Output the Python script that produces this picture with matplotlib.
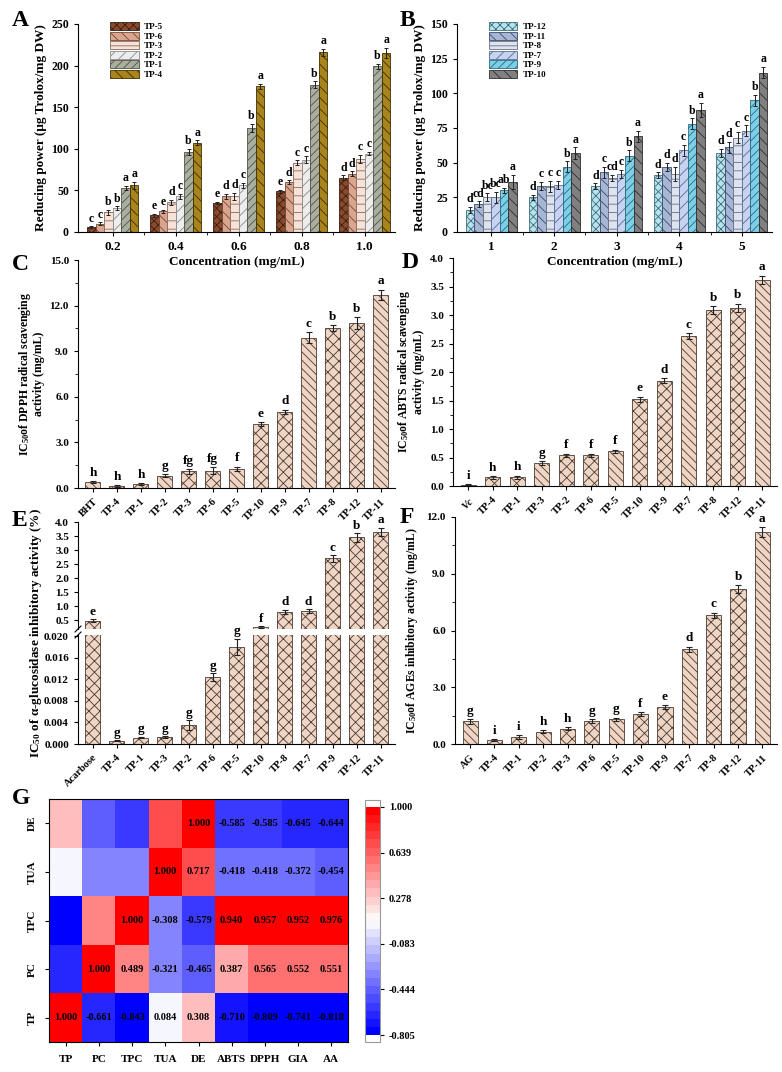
import copy

import matplotlib

matplotlib.use("Agg")
import matplotlib.pyplot as plt
import numpy as np
from matplotlib.cm import ScalarMappable
from matplotlib.colors import Normalize
from matplotlib.ticker import MultipleLocator, FormatStrFormatter

W, H = 782, 1072

# ---- data: panel A (reducing power, TP-1..6) ----
conc_a = ["0.2", "0.4", "0.6", "0.8", "1.0"]
series_a = ["TP-5", "TP-6", "TP-3", "TP-2", "TP-1", "TP-4"]
vals_a = [
    [6, 20, 35, 49, 65],
    [10, 25, 43, 60, 70],
    [24, 36, 43, 83, 88],
    [29, 43, 56, 87, 94],
    [53, 96, 125, 177, 199],
    [56, 107, 175, 216, 215],
]
err_a = [
    [1, 1.5, 1.5, 2, 3],
    [1.5, 2, 3, 2, 3],
    [3, 3, 4, 3, 5],
    [2, 3, 3, 4, 2],
    [2.5, 4, 5, 4, 3],
    [4, 3, 3, 4, 6],
]
let_a = [
    ["c", "e", "e", "e", "d"],
    ["c", "e", "d", "d", "d"],
    ["b", "d", "d", "c", "c"],
    ["b", "c", "c", "c", "c"],
    ["a", "b", "b", "b", "b"],
    ["a", "a", "a", "a", "a"],
]

# ---- data: panel B (reducing power, TP-7..12) ----
conc_b = ["1", "2", "3", "4", "5"]
series_b = ["TP-12", "TP-11", "TP-8", "TP-7", "TP-9", "TP-10"]
vals_b = [
    [16, 25, 33, 41, 57],
    [20, 33, 43, 47, 61],
    [25, 33, 39, 42, 68],
    [25, 34, 42, 59, 73],
    [30, 47, 55, 78, 95],
    [36, 57, 69, 88, 115],
]
err_b = [
    [2, 2, 2, 2, 3],
    [2, 3, 4, 3, 4],
    [3, 4, 2, 5, 4],
    [4, 3, 3, 4, 4],
    [2, 4, 4, 4, 4],
    [5, 4, 4, 5, 4],
]
let_b = [
    ["d", "d", "d", "d", "d"],
    ["cd", "c", "c", "d", "d"],
    ["bc", "c", "cd", "d", "c"],
    ["bc", "c", "c", "c", "c"],
    ["ab", "b", "b", "b", "b"],
    ["a", "a", "a", "a", "a"],
]

# ---- data: panel C (DPPH IC50) ----
cat_c = ["BHT", "TP-4", "TP-1", "TP-2", "TP-3", "TP-6", "TP-5",
         "TP-10", "TP-9", "TP-7", "TP-8", "TP-12", "TP-11"]
val_c = [0.4, 0.12, 0.25, 0.8, 1.1, 1.15, 1.25, 4.2, 5.0, 9.9, 10.5, 10.85, 12.7]
err_c = [0.05, 0.05, 0.07, 0.1, 0.15, 0.2, 0.15, 0.15, 0.15, 0.35, 0.2, 0.4, 0.35]
let_c = ["h", "h", "h", "g", "fg", "fg", "f", "e", "d", "c", "b", "b", "a"]

# ---- data: panel D (ABTS IC50) ----
cat_d = ["Vc", "TP-4", "TP-1", "TP-3", "TP-2", "TP-6", "TP-5",
         "TP-10", "TP-9", "TP-7", "TP-8", "TP-12", "TP-11"]
val_d = [0.02, 0.15, 0.15, 0.4, 0.54, 0.54, 0.61, 1.52, 1.85, 2.63, 3.08, 3.13, 3.62]
err_d = [0.01, 0.02, 0.03, 0.03, 0.03, 0.03, 0.03, 0.05, 0.04, 0.05, 0.07, 0.07, 0.07]
let_d = ["i", "h", "h", "g", "f", "f", "f", "e", "d", "c", "b", "b", "a"]

# ---- data: panel E (alpha-glucosidase IC50) ----
cat_e = ["Acarbose", "TP-4", "TP-1", "TP-3", "TP-2", "TP-6", "TP-5",
         "TP-10", "TP-8", "TP-7", "TP-9", "TP-12", "TP-11"]
val_e = [0.48, 0.0006, 0.0012, 0.0013, 0.0035, 0.0124, 0.018,
         0.25, 0.8, 0.82, 2.7, 3.45, 3.65]
err_e = [0.06, 0.00005, 0.0001, 0.0001, 0.0009, 0.0007, 0.0015,
         0.04, 0.07, 0.07, 0.12, 0.15, 0.15]
let_e = ["e", "g", "g", "g", "g", "g", "g", "f", "d", "d", "c", "b", "a"]

# ---- data: panel F (AGEs IC50) ----
cat_f = ["AG", "TP-4", "TP-1", "TP-2", "TP-3", "TP-6", "TP-5",
         "TP-10", "TP-9", "TP-7", "TP-8", "TP-12", "TP-11"]
val_f = [1.2, 0.2, 0.35, 0.65, 0.8, 1.2, 1.3, 1.58, 1.95, 5.0, 6.8, 8.2, 11.2]
err_f = [0.12, 0.05, 0.1, 0.08, 0.08, 0.1, 0.1, 0.12, 0.12, 0.15, 0.15, 0.2, 0.25]
let_f = ["g", "i", "i", "h", "h", "g", "g", "f", "e", "d", "c", "b", "a"]

# ---- data: panel G (correlation matrix, rows bottom->top) ----
heat_cols = ["TP", "PC", "TPC", "TUA", "DE", "ABTS", "DPPH", "GIA", "AA"]
heat_rows = ["TP", "PC", "TPC", "TUA", "DE"]
corr = [
    [1.000, -0.661, -0.843, 0.084, 0.308, -0.710, -0.809, -0.741, -0.818],
    [-0.661, 1.000, 0.489, -0.321, -0.465, 0.387, 0.565, 0.552, 0.551],
    [-0.843, 0.489, 1.000, -0.308, -0.579, 0.940, 0.957, 0.952, 0.976],
    [0.084, -0.321, -0.308, 1.000, 0.717, -0.418, -0.418, -0.372, -0.454],
    [0.308, -0.465, -0.579, 0.717, 1.000, -0.585, -0.585, -0.645, -0.644],
]
cbar_ticks = [-0.805, -0.444, -0.083, 0.278, 0.639, 1.000]

# ---- styles ----
FILL_A = ["#8a4a2c", "#dba58d", "#f6e2d8", "#ededed", "#a9ae9f", "#a8841a"]
EDGE_A = ["#3a1e10", "#6e4a3a", "#8a6a5a", "#8a8a8a", "#4e5248", "#3e2e05"]
HATCH_A = ["xxxx", "\\\\\\", "--", "///", "////", "\\\\\\"]
FILL_B = ["#b8e3ee", "#a7b6d4", "#dde3ef", "#c6d3f1", "#7ccfe6", "#808080"]
EDGE_B = ["#3c6e7a", "#3c4c6a", "#6a7080", "#5a6a90", "#2a6a80", "#2e2e2e"]
HATCH_B = ["xxxx", "\\\\\\", "--", "///", "////", "\\\\\\"]
FILL_IC = "#efd5c4"
EDGE_IC = "#4a3a32"
HATCH_IC = ["\\\\\\\\", "xxx", "xxx", "\\\\\\\\", "xxx", "xxx", "\\\\\\\\",
            "xxx", "xxx", "\\\\\\\\", "xxx", "xxx", "\\\\\\\\"]

plt.rcParams.update({
    "font.family": "Liberation Serif",
    "font.weight": "bold",
    "axes.labelweight": "bold",
    "mathtext.fontset": "custom",
    "mathtext.rm": "Liberation Serif:bold",
    "mathtext.bf": "Liberation Serif:bold",
    "mathtext.it": "Liberation Serif:bold:italic",
    "axes.unicode_minus": False,
    "hatch.linewidth": 0.6,
    "axes.linewidth": 0.8,
    "xtick.direction": "out",
    "ytick.direction": "out",
    "xtick.major.size": 3,
    "ytick.major.size": 3,
    "xtick.minor.size": 2,
    "ytick.minor.size": 2,
    "xtick.labelsize": 8,
    "ytick.labelsize": 8,
})

fig = plt.figure(figsize=(W / 100, H / 100), dpi=100)


def add_ax(l, t, r, b):
    ax = fig.add_axes([l / W, 1 - b / H, (r - l) / W, (b - t) / H])
    ax.patch.set_alpha(0)
    return ax


def clean(ax):
    ax.spines["top"].set_visible(False)
    ax.spines["right"].set_visible(False)


def grouped(ax, cats, names, vals, errs, lets, fills, edges, hatches, ymax, ystep):
    x = np.arange(len(cats))
    w = 0.136
    for k, name in enumerate(names):
        pos = x + (k - 2.5) * w
        ax.bar(pos, vals[k], w, color=fills[k], edgecolor=edges[k], hatch=hatches[k],
               linewidth=0.6, label=name, zorder=2)
        ax.errorbar(pos, vals[k], yerr=errs[k], fmt="none", ecolor="#222222",
                    elinewidth=0.7, capsize=1.6, capthick=0.7, zorder=3)
        for p, v, e, s in zip(pos, vals[k], errs[k], lets[k]):
            ax.text(p, v + e + ymax * 0.008, s, ha="center", va="bottom",
                    fontsize=8.5, fontweight="bold")
    ax.set_xticks(x)
    ax.set_xticklabels(cats, fontsize=9.5)
    ax.set_xticks(x[:-1] + 0.5, minor=True)
    ax.set_xlim(-0.55, len(cats) - 0.52)
    ax.set_ylim(0, ymax)
    ax.yaxis.set_major_locator(MultipleLocator(ystep))
    ax.tick_params(axis="y", labelsize=8.5)
    ax.set_xlabel("Concentration (mg/mL)", fontsize=9.5, labelpad=2)
    ax.set_ylabel("Reducing power (\u03bcg Trolox/mg DW)", fontsize=9.5, labelpad=3)
    clean(ax)
    ax.legend(loc="upper left", bbox_to_anchor=(0.08, 1.04), frameon=False,
              fontsize=6.5, handlelength=3.2, handleheight=1.0, labelspacing=0.05,
              borderpad=0.2, handletextpad=0.6)


def ic_bars(ax, cats, vals, errs, lets, ymax, step, fmt, label, lp=3):
    x = np.arange(len(cats))
    ax.bar(x, vals, 0.62, color=FILL_IC, edgecolor=EDGE_IC, hatch=HATCH_IC,
           linewidth=0.6, zorder=2)
    ax.errorbar(x, vals, yerr=errs, fmt="none", ecolor="#222222",
                elinewidth=0.8, capsize=2, capthick=0.8, zorder=3)
    for p, v, e, s in zip(x, vals, errs, lets):
        ax.text(p, v + e + ymax * 0.01, s, ha="center", va="bottom",
                fontsize=9.5, fontweight="bold")
    ax.set_xticks(x)
    ax.set_xticklabels(cats, rotation=45, ha="right", rotation_mode="anchor", fontsize=7.5)
    ax.set_xlim(-0.62, len(cats) - 0.4)
    ax.set_ylim(0, ymax)
    ax.yaxis.set_major_locator(MultipleLocator(step))
    ax.yaxis.set_minor_locator(MultipleLocator(step / 2))
    ax.yaxis.set_major_formatter(FormatStrFormatter(fmt))
    ax.set_ylabel(label, fontsize=8.5, labelpad=lp, linespacing=1.1)
    clean(ax)


# A
ax_a = add_ax(78, 24, 395, 232)
grouped(ax_a, conc_a, series_a, vals_a, err_a, let_a, FILL_A, EDGE_A, HATCH_A, 250, 50)
# B
ax_b = add_ax(457, 24, 772, 232)
grouped(ax_b, conc_b, series_b, vals_b, err_b, let_b, FILL_B, EDGE_B, HATCH_B, 150, 25)

# C
ax_c = add_ax(78, 260, 395, 488)
ic_bars(ax_c, cat_c, val_c, err_c, let_c, 15, 3, "%.1f",
        "IC$_{50}$of DPPH radical scavenging\nactivity (mg/mL)", lp=3)
# D
ax_d = add_ax(453, 258, 777, 486)
ic_bars(ax_d, cat_d, val_d, err_d, let_d, 4, 0.5, "%.1f",
        "IC$_{50}$of ABTS radical scavenging\nactivity (mg/mL)", lp=4)
ax_d.set_xticklabels([r"$\mathit{Vc}$"] + cat_d[1:])
# F
ax_f = add_ax(455, 517, 777, 744)
ic_bars(ax_f, cat_f, val_f, err_f, let_f, 12, 3, "%.1f",
        "IC$_{50}$of AGEs inhibitory activity (mg/mL)", lp=5)

# E: broken y-axis
ax_et = add_ax(78, 522, 395, 629)
ax_eb = add_ax(78, 635, 395, 744)
x_e = np.arange(len(cat_e))
for ax in (ax_et, ax_eb):
    ax.bar(x_e, val_e, 0.62, color=FILL_IC, edgecolor=EDGE_IC, hatch="xxx",
           linewidth=0.6, zorder=2)
    ax.errorbar(x_e, val_e, yerr=err_e, fmt="none", ecolor="#222222",
                elinewidth=0.8, capsize=2, capthick=0.8, zorder=3)
    ax.set_xlim(-0.62, len(cat_e) - 0.4)
    clean(ax)
ax_et.set_ylim(0.18, 4.0)
ax_eb.set_ylim(0, 0.0202)
ax_et.yaxis.set_major_locator(MultipleLocator(0.5))
ax_et.yaxis.set_major_formatter(FormatStrFormatter("%.1f"))
ax_eb.yaxis.set_major_locator(MultipleLocator(0.004))
ax_eb.yaxis.set_major_formatter(FormatStrFormatter("%.3f"))
ax_et.spines["bottom"].set_visible(False)
ax_et.tick_params(axis="x", bottom=False, labelbottom=False)
ax_eb.set_xticks(x_e)
ax_eb.set_xticklabels(cat_e, rotation=45, ha="right", rotation_mode="anchor", fontsize=7.5)
for p, v, e, s in zip(x_e, val_e, err_e, let_e):
    if v < 0.02:
        ax_eb.text(p, v + e + 0.0003, s, ha="center", va="bottom", fontsize=9.5)
    else:
        ax_et.text(p, v + e + 0.05, s, ha="center", va="bottom", fontsize=9.5)
# break marks on the left spine
for yy in (629, 635):
    fig.add_artist(plt.Line2D([75 / W, 81 / W], [1 - (yy + 3) / H, 1 - (yy - 3) / H],
                              color="black", lw=0.8))
fig.text(36 / W, 1 - 633 / H, "IC$_{50}$ of \u03b1-glucosidase inhibitory activity (%)",
         rotation=90, ha="center", va="center", fontsize=9.5, fontweight="bold")

# G heatmap
ax_g = add_ax(49, 799, 348, 1042)
base = plt.get_cmap("bwr").resampled(28)
cmap_data = copy.copy(base)
cmap_data.set_under("blue")
cmap_data.set_over("red")
norm = Normalize(vmin=-0.805, vmax=1.0)
mat = np.array(corr)
ax_g.pcolormesh(np.arange(len(heat_cols) + 1), np.arange(len(heat_rows) + 1), mat,
                cmap=cmap_data, norm=norm)
for i in range(len(heat_rows)):
    for j in range(len(heat_cols)):
        if j >= i:
            ax_g.text(j + 0.5, i + 0.5, f"{mat[i, j]:.3f}", ha="center", va="center",
                      fontsize=7.5, fontweight="bold", fontstretch="condensed")
ax_g.set_xlim(0, len(heat_cols))
ax_g.set_ylim(0, len(heat_rows))
ax_g.set_xticks(np.arange(len(heat_cols)) + 0.5)
ax_g.set_xticklabels(heat_cols, fontsize=8)
ax_g.set_yticks(np.arange(len(heat_rows)) + 0.5)
ax_g.set_yticklabels(heat_rows, fontsize=8, rotation=90, va="center")
ax_g.tick_params(length=3, pad=6)

cax = add_ax(365, 800, 380, 1042)
cmap_bar = copy.copy(base)
cmap_bar.set_under("white")
cmap_bar.set_over("white")
sm = ScalarMappable(norm=norm, cmap=cmap_bar)
cb = fig.colorbar(sm, cax=cax, extend="both", extendrect=True, extendfrac=0.03,
                  ticks=cbar_ticks)
cb.ax.yaxis.set_major_formatter(FormatStrFormatter("%.3f"))
cb.ax.tick_params(labelsize=7.5, length=3)
cb.outline.set_edgecolor("#999999")
cb.outline.set_linewidth(0.8)

# panel letters
for s, (px, py) in {"A": (12, 20), "B": (400, 20), "C": (12, 265), "D": (402, 262),
                    "E": (12, 520), "F": (400, 518), "G": (12, 798)}.items():
    fig.text(px / W, 1 - py / H, s, fontsize=17, fontweight="bold", ha="left", va="center")

fig.savefig("out.png", dpi=100)
